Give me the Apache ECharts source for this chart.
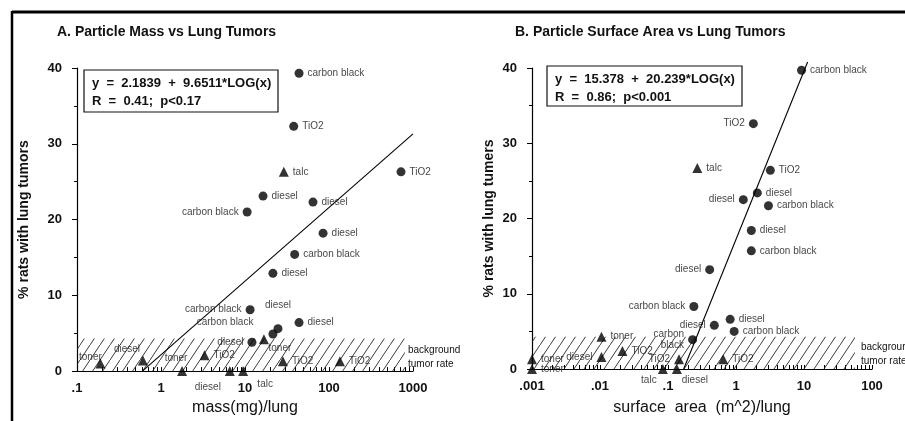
<!DOCTYPE html>
<html>
<head>
<meta charset="utf-8">
<script src="https://cdn.jsdelivr.net/npm/echarts@6/dist/echarts.min.js"></script>
<style>
  html, body { margin: 0; padding: 0; background: #fff; }
  #chart { width: 905px; height: 421px; }
</style>
</head>
<body>
<div id="chart"></div>
<script>
/* ---------------- data: A. particle mass ---------------- */
const massCircX = [44, 38, 720, 16.4, 64.5, 10.6, 85, 39, 21.5, 11.5, 44, 24.7, 21.5, 12.1];
const massCircY = [39.3, 32.3, 26.3, 23.1, 22.3, 21.0, 18.2, 15.4, 12.9, 8.1, 6.4, 5.6, 4.9, 3.8];
const massCircName = ['carbon black', 'TiO2', 'TiO2', 'diesel', 'diesel', 'carbon black', 'diesel',
  'carbon black', 'diesel', 'carbon black', 'diesel', 'diesel', 'carbon black', 'diesel'];

const massTriX = [29, 16.8, 0.19, 0.61, 1.78, 3.3, 6.6, 9.5, 28.3, 135];
const massTriY = [26.3, 4.2, 1.0, 1.4, 0, 2.1, 0, 0, 1.3, 1.3];
const massTriName = ['talc', 'toner', 'toner', 'diesel', 'toner', 'TiO2', 'diesel', 'talc', 'TiO2', 'TiO2'];

const massFitX = [0.6, 1000];
const massFitY = [0, 31.3];

/* ---------------- data: B. particle surface area ---------------- */
const areaCircX = [9.2, 1.8, 3.2, 2.06, 1.28, 3.0, 1.68, 1.68, 0.41, 0.24, 0.82, 0.48, 0.94, 0.23];
const areaCircY = [39.7, 32.6, 26.4, 23.4, 22.5, 21.7, 18.4, 15.7, 13.2, 8.3, 6.6, 5.8, 5.0, 3.9];
const areaCircName = ['carbon black', 'TiO2', 'TiO2', 'diesel', 'diesel', 'carbon black', 'diesel',
  'carbon black', 'diesel', 'carbon black', 'diesel', 'diesel', 'carbon black', 'carbon\nblack'];

const areaTriX = [0.27, 0.0105, 0.0214, 0.0105, 0.001, 0.001, 0.145, 0.084, 0.135, 0.65];
const areaTriY = [26.7, 4.3, 2.4, 1.6, 1.3, 0, 1.3, 0, 0, 1.3];
const areaTriName = ['talc', 'toner', 'TiO2', 'diesel', 'toner', 'toner', 'TiO2', 'talc', 'diesel', 'TiO2'];

const areaFitX = [0.17, 11.3];
const areaFitY = [0, 40.8];

// background tumour rate band (upper edge, right end of hatching)
const bgRate = 4.3;
const massBandEnd = 800;
const areaBandEnd = 56;

const yTicks = [0, 10, 20, 30, 40];
const massTicks = [0.1, 1, 10, 100, 1000];
const areaTicks = [0.001, 0.01, 0.1, 1, 10, 100];

/* ---------------- label placement (style, kept apart from data) ---------------- */
const massCircPos = ['r', 'r', 'r', 'r', 'r', 'l', 'r', 'r', 'r', 'l', 'r', ['top', 0, -9], ['left', -11, -12], 'l'];
const massTriPos = ['r', ['bottom', 16, -6], ['top', -10, 8], ['top', -16, 3], ['top', -6, 2], 'r',
  ['bottom', -22, 2], ['bottom', 22, -1], 'r', 'r'];
const areaCircPos = ['r', 'l', 'r', 'r', 'l', 'r', 'r', 'r', 'l', 'l', 'r', 'l', 'r', 'l'];
const areaTriPos = ['r', 'r', 'r', 'l', 'r', 'r', 'l', ['bottom', -14, -3], ['bottom', 18, -3], 'r'];

const FONT = 'Liberation Sans, Arial, sans-serif';

const labelFor = p => {
  const base = {
    show: true,
    formatter: '{b}',
    fontSize: 10,
    lineHeight: 11,
    color: '#111',
    fontFamily: FONT,
    distance: 4
  };
  if (p === 'r') return { ...base, position: 'right' };
  if (p === 'l') return { ...base, position: 'left' };
  return { ...base, position: p[0], offset: [p[1], p[2]] };
};

const points = (xs, ys, names, pos) =>
  xs.map((x, i) => ({ value: [x, ys[i]], name: names[i], label: labelFor(pos[i]) }));

// hatch pattern for the background band
const hatch = (() => {
  const c = document.createElement('canvas');
  c.width = 10;
  c.height = 15;
  const ctx = c.getContext('2d');
  ctx.strokeStyle = '#222';
  ctx.lineWidth = 0.9;
  ctx.beginPath();
  ctx.moveTo(-1, 16.5);
  ctx.lineTo(11, -1.5);
  ctx.stroke();
  return c;
})();

const logMinor = (lo, hi) => {
  const out = [];
  for (let d = lo; d < hi * 0.999; d *= 10) {
    for (let k = 1; k < 10; k++) out.push(+(d * k).toPrecision(3));
  }
  out.push(hi);
  return out;
};

const fmtLog = v => {
  const s = String(+v.toPrecision(3));
  return s.startsWith('0.') ? s.slice(1) : s;
};

const xAxisFor = (grid, min, max, name, gap) => ({
  gridIndex: grid,
  type: 'log',
  logBase: 10,
  min,
  max,
  name,
  nameLocation: 'middle',
  nameGap: gap,
  nameTextStyle: { fontSize: 16, color: '#111', fontFamily: FONT },
  axisLine: { show: true, onZero: false, lineStyle: { color: '#000', width: 1.2 } },
  axisTick: { show: true, inside: true, length: 4, customValues: logMinor(min, max), lineStyle: { color: '#000' } },
  axisLabel: {
    customValues: grid === 0 ? massTicks : areaTicks,
    formatter: fmtLog,
    fontSize: 13,
    fontWeight: 'bold',
    color: '#111',
    fontFamily: FONT,
    margin: 11
  },
  splitLine: { show: false }
});

const yAxisFor = (grid, name, gap) => ({
  gridIndex: grid,
  type: 'value',
  min: 0,
  max: 40,
  interval: 10,
  name,
  nameLocation: 'middle',
  nameGap: gap,
  nameTextStyle: { fontSize: 14, fontWeight: 'bold', color: '#111', fontFamily: FONT },
  axisLine: { show: true, lineStyle: { color: '#000', width: 1.2 } },
  axisTick: { show: true, length: 5, lineStyle: { color: '#000' } },
  minorTick: { show: true, splitNumber: 2, length: 3, lineStyle: { color: '#000' } },
  axisLabel: {
    customValues: yTicks,
    fontSize: 13,
    fontWeight: 'bold',
    color: '#111',
    fontFamily: FONT,
    margin: 15
  },
  splitLine: { show: false }
});

const scatter = (i, data, symbol) => ({
  type: 'scatter',
  xAxisIndex: i,
  yAxisIndex: i,
  symbol,
  symbolSize: symbol === 'circle' ? 9 : 10,
  itemStyle: { color: '#000' },
  clip: false,
  silent: true,
  data
});

const fitLine = (i, xs, ys, bandEnd) => ({
  type: 'line',
  xAxisIndex: i,
  yAxisIndex: i,
  symbol: 'none',
  clip: false,
  silent: true,
  lineStyle: { color: '#000', width: 1.1 },
  data: xs.map((x, k) => [x, ys[k]]),
  markArea: {
    silent: true,
    itemStyle: { color: { image: hatch, repeat: 'repeat' } },
    data: [[{ coord: [i === 0 ? massTicks[0] : areaTicks[0], 0] }, { coord: [bandEnd, bgRate] }]]
  },
  z: 1
});

const eqBox = (x, y, w, h, l1, l2) => ({
  type: 'group',
  children: [
    { type: 'rect', shape: { x, y, width: w, height: h }, style: { fill: '#fff', stroke: '#111', lineWidth: 1.2 } },
    { type: 'text', x: x + 8, y: y + 13, style: { text: l1, font: `bold 13px ${FONT}`, fill: '#111', verticalAlign: 'middle' } },
    { type: 'text', x: x + 8, y: y + 31, style: { text: l2, font: `bold 13px ${FONT}`, fill: '#111', verticalAlign: 'middle' } }
  ]
});

const bgText = (x, y) => ({
  type: 'text',
  x,
  y,
  style: { text: 'background\ntumor rate', font: `10px ${FONT}`, fill: '#111', lineHeight: 14 }
});

const titleStyle = { fontSize: 14, fontWeight: 'bold', color: '#111', fontFamily: FONT };

const chart = echarts.init(document.getElementById('chart'));
chart.setOption({
  backgroundColor: '#fff',
  animation: false,
  title: [
    { text: 'A. Particle Mass vs Lung Tumors', left: 52, top: 20, textStyle: titleStyle },
    { text: 'B. Particle Surface Area vs Lung Tumors', left: 510, top: 20, textStyle: titleStyle }
  ],
  grid: [
    { left: 77, top: 68, width: 336, height: 306 },
    { left: 532, top: 68, width: 340, height: 304 }
  ],
  xAxis: [
    xAxisFor(0, 0.1, 1000, 'mass(mg)/lung', 26),
    xAxisFor(1, 0.001, 100, 'surface  area  (m^2)/lung', 31)
  ],
  yAxis: [
    yAxisFor(0, '% rats with lung tumors', 46),
    yAxisFor(1, '% rats with lung tumers', 36)
  ],
  series: [
    fitLine(0, massFitX, massFitY, massBandEnd),
    scatter(0, points(massCircX, massCircY, massCircName, massCircPos), 'circle'),
    scatter(0, points(massTriX, massTriY, massTriName, massTriPos), 'triangle'),
    fitLine(1, areaFitX, areaFitY, areaBandEnd),
    scatter(1, points(areaCircX, areaCircY, areaCircName, areaCircPos), 'circle'),
    scatter(1, points(areaTriX, areaTriY, areaTriName, areaTriPos), 'triangle')
  ],
  graphic: [
    { type: 'line', shape: { x1: 12, y1: 12, x2: 905, y2: 12 }, style: { stroke: '#000', lineWidth: 3 } },
    { type: 'line', shape: { x1: 12, y1: 11, x2: 12, y2: 421 }, style: { stroke: '#000', lineWidth: 2.5 } },
    eqBox(84, 70, 194, 42, 'y  =  2.1839  +  9.6511*LOG(x)', 'R  =  0.41;  p<0.17'),
    eqBox(547, 66, 195, 40, 'y  =  15.378  +  20.239*LOG(x)', 'R  =  0.86;  p<0.001'),
    bgText(408, 343),
    bgText(861, 340)
  ]
});
</script>
</body>
</html>
